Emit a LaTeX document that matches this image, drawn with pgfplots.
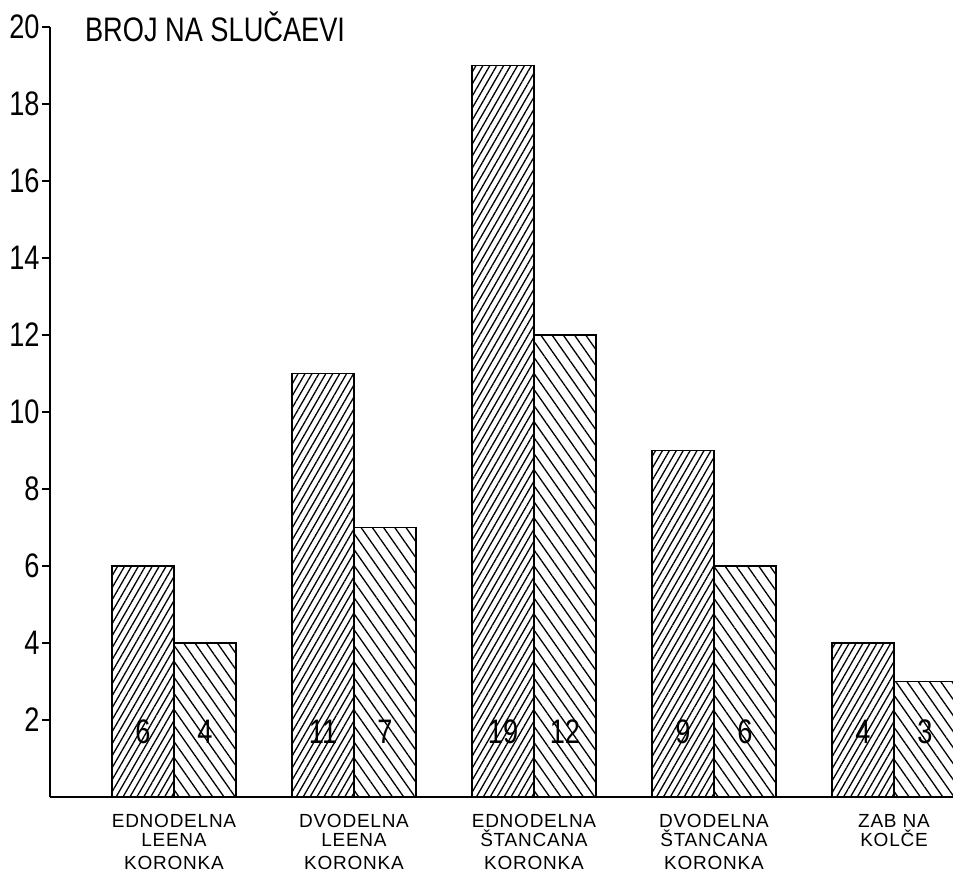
\documentclass[border=0pt]{standalone}
\usepackage{fontspec}
\setmainfont{Liberation Sans}
\newfontfamily\narrow[FakeStretch=0.8]{Liberation Sans}
\newfontfamily\spaced[LetterSpace=4]{Liberation Sans}
\usepackage{pgfplots}
\pgfplotsset{compat=1.18}
\usetikzlibrary{patterns.meta}
\begin{document}
\begin{tikzpicture}
\begin{axis}[
  scale only axis, width=451.5pt, height=385pt,
  xmin=-0.6889, xmax=4.3278, ymin=0, ymax=20,
  axis x line*=bottom, axis y line*=left,
  x axis line style={line width=1pt},
  y axis line style={line width=1.4pt},
  ytick={2,4,...,20},
  xtick={0,1,2,3,4},
  xticklabels={{EDNODELNA\\LEENA\\[2pt]KORONKA},{DVODELNA\\LEENA\\[2pt]KORONKA},{EDNODELNA\\ŠTANCANA\\[2pt]KORONKA},{DVODELNA\\ŠTANCANA\\[2pt]KORONKA},{ZAB NA\\KOLČE}},
  xticklabel style={align=center, font=\spaced\fontsize{9.5}{9.5}\selectfont, yshift=-1pt},
  x tick style={draw=none},
  y tick style={line width=0.8pt, black},
  tick align=outside, major tick length=4pt,
  /pgf/number format/assume math mode=true,
  yticklabel style={font=\narrow\fontsize{17}{17}\selectfont, inner sep=1pt},
  clip mode=individual,
]
\addplot[ybar, bar width=31pt, bar shift=-15.5pt, draw=black, line width=0.8pt,
  pattern={Lines[angle=60,distance=3pt,line width=0.65pt]}]
  coordinates {(0,6) (1,11) (2,19) (3,9) (4,4)};
\addplot[ybar, bar width=31pt, bar shift=15.5pt, draw=black, line width=0.8pt,
  pattern={Lines[angle=-55,distance=4.6pt,line width=0.65pt]}]
  coordinates {(0,4) (1,7) (2,12) (3,6) (4,3)};
\addplot[only marks, mark=none, nodes near coords, point meta=explicit symbolic,
  nodes near coords style={anchor=center, font=\narrow\fontsize{17}{17}\selectfont}]
  coordinates {(-0.172,1.7)[6] (0.172,1.7)[4] (0.828,1.7)[11] (1.172,1.7)[7]
    (1.828,1.7)[19] (2.172,1.7)[12] (2.828,1.7)[9] (3.172,1.7)[6]
    (3.828,1.7)[4] (4.172,1.7)[3]};
\node[anchor=west, xshift=14pt, font=\narrow\fontsize{17}{17}\selectfont] at (rel axis cs:0,1) {BROJ NA SLUČAEVI};
\end{axis}
\pgfresetboundingbox
\useasboundingbox (-25pt,-40.5pt) rectangle (451.5pt,398.5pt);
\end{tikzpicture}
\end{document}
